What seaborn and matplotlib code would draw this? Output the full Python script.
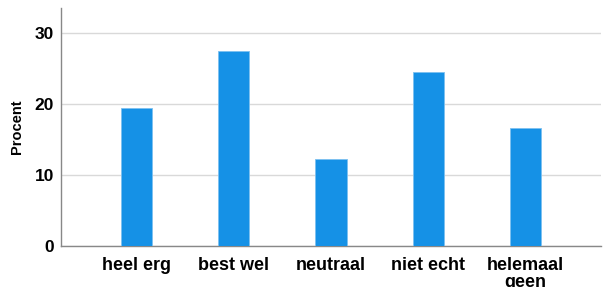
import pandas as pd
import seaborn as sns
import matplotlib.pyplot as plt

categories = ["heel erg", "best wel", "neutraal", "niet echt", "helemaal\ngeen"]
procent = [19.4, 27.4, 12.2, 24.5, 16.6]
yticks = [0, 10, 20, 30]

df = pd.DataFrame({"cat": categories, "Procent": procent})

sns.set_style("white")
plt.rcParams["font.family"] = ["Liberation Sans", "DejaVu Sans"]

fig = plt.figure(figsize=(6.04, 2.87), dpi=100)
ax = fig.add_axes([0.101, 0.143, 0.894, 0.829])
sns.barplot(data=df, x="cat", y="Procent", color="#1591e6", width=0.32,
            saturation=1, edgecolor="#7cc0f0", linewidth=0.6, ax=ax, zorder=3)

ax.set_ylim(0, 33.5)
ax.set_xlim(-0.78, 4.78)
ax.set_yticks(yticks)
ax.yaxis.grid(True, color="#d9d9d9", linewidth=1, zorder=0)
ax.set_axisbelow(True)
for s in ["top", "right"]:
    ax.spines[s].set_visible(False)
for s in ["left", "bottom"]:
    ax.spines[s].set_color("#888888")
    ax.spines[s].set_linewidth(1)
ax.tick_params(length=0, pad=5, colors="black")
ax.tick_params(axis="x", pad=8)
plt.setp(ax.get_yticklabels(), fontsize=12.5, fontweight="bold")
plt.setp(ax.get_xticklabels(), fontsize=13, fontweight="bold", linespacing=1.0)
ax.set_xlabel("")
ax.set_ylabel("Procent", fontsize=10.5, fontweight="bold", labelpad=8, color="black")

fig.savefig("out.png", dpi=100)
